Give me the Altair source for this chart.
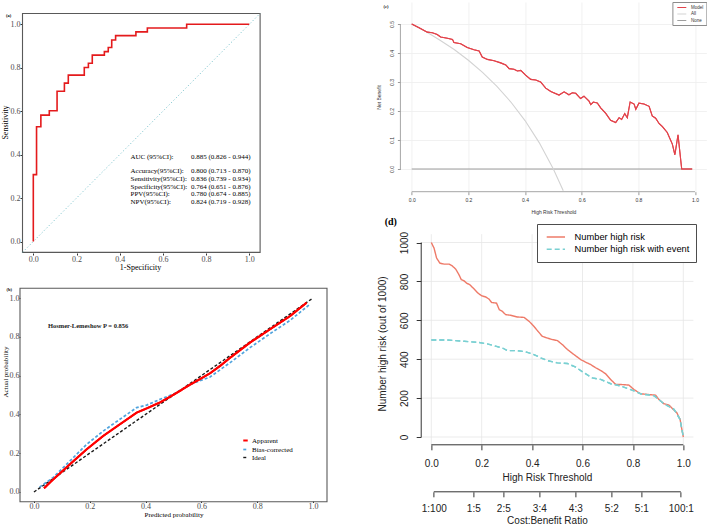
import altair as alt
import pandas as pd

SERIF = "Liberation Serif"
SANS = "Liberation Sans"

# ---------------- (a) ROC curve ----------------
roc_fpr = [0.0, 0.0, 0.015, 0.035, 0.074, 0.110, 0.144, 0.162, 0.236, 0.255, 0.273,
           0.329, 0.347, 0.363, 0.381, 0.475, 0.528, 0.710, 1.0]
roc_tpr = [0.0, 0.308, 0.528, 0.582, 0.602, 0.692, 0.729, 0.766, 0.801, 0.821, 0.858,
           0.874, 0.893, 0.928, 0.948, 0.965, 0.983, 1.0, 1.0]
diag_xy = [-0.05, 1.05]
stat_names = ["AUC (95%CI):", "Accuracy(95%CI):", "Sensitivity(95%CI):",
              "Specificity(95%CI):", "PPV(95%CI):", "NPV(95%CI):"]
stat_values = ["0.885 (0.826 - 0.944)", "0.800 (0.713 - 0.870)", "0.836 (0.739 - 0.934)",
               "0.764 (0.651 - 0.876)", "0.780 (0.674 - 0.885)", "0.824 (0.719 - 0.928)"]
ticks01 = [0.0, 0.2, 0.4, 0.6, 0.8, 1.0]

# ---------------- (b) calibration ----------------
b_series = ["Apparent", "Bias-corrected", "Ideal"]
apparent_x = [0.036, 0.069, 0.129, 0.189, 0.248, 0.308, 0.368, 0.404, 0.452, 0.487, 0.523,
              0.559, 0.595, 0.631, 0.667, 0.703, 0.774, 0.846, 0.918, 0.977]
apparent_y = [0.019, 0.065, 0.143, 0.220, 0.289, 0.349, 0.409, 0.431, 0.462, 0.490, 0.521,
              0.553, 0.582, 0.612, 0.650, 0.692, 0.770, 0.839, 0.907, 0.976]
bias_x = [0.020, 0.069, 0.129, 0.189, 0.248, 0.308, 0.368, 0.404, 0.452, 0.499, 0.559,
          0.631, 0.703, 0.774, 0.846, 0.918, 0.989]
bias_y = [0.025, 0.075, 0.160, 0.246, 0.314, 0.375, 0.435, 0.448, 0.478, 0.504, 0.554,
          0.593, 0.667, 0.744, 0.816, 0.885, 0.968]
ideal_xy = [0.0, 0.995]
hl_text = "Hosmer-Lemeshow  P  =  0.856"

# ---------------- (c) decision curve ----------------
c_series = ["Model", "All", "None"]
model_t = [0, 0.026, 0.055, 0.073, 0.09, 0.102, 0.126, 0.144, 0.149, 0.173, 0.196, 0.22,
           0.238, 0.249, 0.267, 0.291, 0.314, 0.332, 0.344, 0.361, 0.373, 0.385, 0.402,
           0.42, 0.438, 0.455, 0.473, 0.491, 0.52, 0.538, 0.555, 0.567, 0.579, 0.596,
           0.608, 0.626, 0.632, 0.641, 0.655, 0.667, 0.685, 0.702, 0.72, 0.732, 0.741,
           0.752, 0.761, 0.771, 0.785, 0.791, 0.802, 0.82, 0.838, 0.849, 0.861, 0.873,
           0.885, 0.902, 0.92, 0.929, 0.94, 0.953, 0.99]
model_nb = [0.5, 0.487, 0.472, 0.47, 0.464, 0.455, 0.451, 0.447, 0.436, 0.432, 0.419, 0.411,
            0.407, 0.386, 0.378, 0.373, 0.366, 0.359, 0.346, 0.344, 0.338, 0.340, 0.324,
            0.309, 0.307, 0.300, 0.279, 0.267, 0.255, 0.266, 0.256, 0.263, 0.261, 0.243,
            0.251, 0.234, 0.222, 0.231, 0.228, 0.211, 0.192, 0.168, 0.16, 0.177, 0.171,
            0.191, 0.177, 0.231, 0.224, 0.206, 0.227, 0.224, 0.216, 0.183, 0.175, 0.157,
            0.146, 0.126, 0.086, 0.049, 0.118, 0.0, 0.0]
all_t = [0.0, 0.05, 0.1, 0.15, 0.2, 0.25, 0.3, 0.35, 0.4, 0.45, 0.5, 0.535]
all_nb = [0.5, 0.474, 0.444, 0.412, 0.375, 0.333, 0.286, 0.231, 0.167, 0.091, 0.0, -0.075]
none_t = [0.0, 0.99]
none_nb = [0.0, 0.0]
c_yticks = [0.0, 0.1, 0.2, 0.3, 0.4, 0.5]

# ---------------- (d) clinical impact ----------------
d_series = ["Number high risk", "Number high risk with event"]
risk_t = [0, 0.011, 0.021, 0.034, 0.05, 0.07, 0.083, 0.097, 0.11, 0.119, 0.13, 0.14, 0.153,
          0.169, 0.185, 0.2, 0.216, 0.229, 0.239, 0.259, 0.27, 0.282, 0.295, 0.315, 0.341,
          0.368, 0.388, 0.407, 0.423, 0.44, 0.46, 0.48, 0.5, 0.52, 0.54, 0.566, 0.593,
          0.612, 0.632, 0.652, 0.672, 0.692, 0.712, 0.732, 0.751, 0.784, 0.804, 0.831,
          0.857, 0.89, 0.903, 0.923, 0.943, 0.96, 0.974, 0.987, 0.993, 1.0]
risk_n = [1000, 971, 920, 894, 889, 889, 880, 863, 834, 809, 803, 791, 783, 762, 740, 726,
          720, 709, 692, 688, 654, 646, 629, 626, 617, 615, 595, 569, 544, 518, 509, 501,
          496, 475, 450, 424, 398, 385, 373, 356, 342, 325, 295, 270, 270, 267, 244, 222,
          219, 215, 193, 171, 164, 142, 125, 91, 48, 0]
event_t = [0, 0.063, 0.13, 0.183, 0.222, 0.255, 0.282, 0.302, 0.341, 0.374, 0.407, 0.434,
           0.46, 0.5, 0.54, 0.573, 0.606, 0.639, 0.672, 0.712, 0.751, 0.791, 0.831, 0.884,
           0.923, 0.963, 0.987, 1.0]
event_n = [499, 499, 492, 487, 479, 467, 458, 444, 444, 438, 424, 407, 393, 381, 378, 359,
           330, 304, 296, 274, 262, 244, 222, 212, 171, 142, 91, 0]
d_yticks = [0, 200, 400, 600, 800, 1000]
cb_labels = ["1:100", "1:5", "2:5", "3:4", "4:3", "5:2", "5:1", "100:1"]
cb_cost = [1, 1, 2, 3, 4, 5, 5, 100]
cb_benefit = [100, 5, 5, 4, 3, 2, 1, 1]

# ---------------- layout constants ----------------
A_W, A_H = 240, 240
B_W, B_H = 307, 259
C_W, C_H = 306, 189.7
D_W, D_H = 293, 202.8
frame01 = (-0.05, 1.05)
stat_x_name, stat_x_val = 0.45, 0.73
stat_rows_y = [0.387, 0.326, 0.288, 0.252, 0.217, 0.182]
hl_pos = (0.05, 0.854)


def ax(title, values, font, lfs, tfs, tick, lpad, tpad, grid=False, **kw):
    return alt.Axis(title=title, values=values, grid=grid, domain=False, tickSize=tick,
                    labelFont=font, labelFontSize=lfs, labelPadding=lpad, labelFlush=False,
                    labelOverlap=False, titleFont=font, titleFontSize=tfs,
                    titleFontWeight="normal", titlePadding=tpad, **kw)


def frame_box(X, Y, fx, fy):
    df = pd.DataFrame({fx: [frame01[0]], fx + "2": [frame01[1]],
                       fy: [frame01[0]], fy + "2": [frame01[1]]})
    return alt.Chart(df).mark_rect(fillOpacity=0, stroke="#595959", strokeWidth=1.1).encode(
        x=X, x2=fx + "2:Q", y=Y, y2=fy + "2:Q")


# ================= panel A =================
scA_x = alt.Scale(domain=[-0.0616, 1.0495], nice=False, zero=False)
scA_y = alt.Scale(domain=[-0.0023, 1.1027], nice=False, zero=False)
axA_x = ax("1-Specificity", ticks01, SERIF, 8, 8, 2, 0, 0, format=".1f", offset=11,
           tickColor="#333333", labelColor="#4D4D4D", titleColor="#000000")
axA_y = ax("Sensitivity", ticks01, SERIF, 8, 8, 2, 0, 1, format=".1f", offset=-2,
           tickColor="#333333", labelColor="#4D4D4D", titleColor="#000000")
XA = alt.X("x:Q", scale=scA_x, axis=axA_x)
YA = alt.Y("y:Q", scale=scA_y, axis=axA_y)

a_diag = alt.Chart(pd.DataFrame({"x": diag_xy, "y": diag_xy})).mark_line(
    color="#74C0C8", strokeWidth=0.9, strokeDash=[1.2, 2.2]).encode(x=XA, y=YA)
a_roc = alt.Chart(pd.DataFrame({"x": roc_fpr, "y": roc_tpr, "i": list(range(len(roc_fpr)))})
                  ).mark_line(color="#E41A1C", strokeWidth=1.6, interpolate="step-after"
                              ).encode(x=XA, y=YA, order="i:Q")
a_names = alt.Chart(pd.DataFrame({"x": [stat_x_name] * len(stat_names), "y": stat_rows_y,
                                  "t": stat_names})).mark_text(
    align="left", baseline="middle", font=SERIF, fontSize=7, color="#000000"
).encode(x=XA, y=YA, text="t:N")
a_vals = alt.Chart(pd.DataFrame({"x": [stat_x_val] * len(stat_values), "y": stat_rows_y,
                                 "t": stat_values})).mark_text(
    align="left", baseline="middle", font=SERIF, fontSize=7, color="#000000"
).encode(x=XA, y=YA, text="t:N")
A = alt.layer(frame_box(XA, YA, "x", "y"), a_diag, a_roc, a_names, a_vals).properties(
    width=A_W, height=A_H,
    title=alt.TitleParams("(a)", anchor="start", frame="group", font=SERIF, fontSize=4.5,
                          fontWeight="bold", color="#000000", offset=0, dx=-14, dy=15.5))

# ================= panel B =================
scB_x = alt.Scale(domain=[-0.05, 1.05], nice=False, zero=False)
scB_y = alt.Scale(domain=[-0.0464, 1.2887], nice=False, zero=False)
axB_x = ax("Predicted probability", ticks01, SERIF, 8, 7, 1.5, 0, 0, format=".1f",
           tickColor="#333333", labelColor="#4D4D4D", titleColor="#000000")
axB_y = ax("Actual probability", ticks01, SERIF, 8, 7, 1, 0, 1, format=".1f",
           tickColor="#333333", labelColor="#4D4D4D", titleColor="#000000")
XB = alt.X("x:Q", scale=scB_x, axis=axB_x)
YB = alt.Y("y:Q", scale=scB_y, axis=axB_y)
dfB = pd.concat([
    pd.DataFrame({"x": ideal_xy, "y": ideal_xy, "s": "Ideal"}),
    pd.DataFrame({"x": bias_x, "y": bias_y, "s": "Bias-corrected"}),
    pd.DataFrame({"x": apparent_x, "y": apparent_y, "s": "Apparent"}),
])
legB = alt.Legend(title=None, orient="none", legendX=222, legendY=195, symbolType="stroke",
                  symbolSize=20, labelFont=SERIF, labelFontSize=7, labelColor="#000000",
                  rowPadding=0, labelOffset=3, padding=0)
b_lines = alt.Chart(dfB).mark_line().encode(
    x=XB, y=YB,
    color=alt.Color("s:N", scale=alt.Scale(domain=b_series,
                                           range=["#FF0000", "#4FA3DD", "#1A1A1A"]), legend=legB),
    strokeDash=alt.StrokeDash("s:N", scale=alt.Scale(domain=b_series,
                                                     range=[[1, 0], [3, 2], [3, 2]]), legend=legB),
    strokeWidth=alt.StrokeWidth("s:N", scale=alt.Scale(domain=b_series, range=[2.0, 1.4, 1.2]),
                                legend=legB),
)
b_app = alt.Chart(pd.DataFrame({"x": apparent_x, "y": apparent_y})).mark_line(
    color="#FF0000", strokeWidth=2.0).encode(x=XB, y=YB)
b_text = alt.Chart(pd.DataFrame({"x": [hl_pos[0]], "y": [hl_pos[1]], "t": [hl_text]})).mark_text(
    align="left", baseline="middle", font=SERIF, fontSize=6.5, fontWeight="bold",
    color="#222222").encode(x=XB, y=YB, text="t:N")
B = alt.layer(frame_box(XB, YB, "x", "y"), b_lines, b_app, b_text).properties(
    width=B_W, height=B_H,
    title=alt.TitleParams("(b)", anchor="start", frame="group", font=SERIF, fontSize=4.5,
                          fontWeight="bold", color="#000000", offset=0, dx=-13.5, dy=49))

# ================= panel C =================
scCx = alt.Scale(domain=[-0.0399, 1.0402], nice=False, zero=False)
scCy = alt.Scale(domain=[-0.0783, 0.5759], nice=False, zero=False)
axC_x = ax("High Risk Threshold", ticks01, SANS, 5, 5, 3, 3, 6.6, grid=True, format=".1f",
           gridColor="#EDEDED", gridWidth=0.8, tickColor="#9A9A9A", labelColor="#333333",
           titleColor="#333333")
axC_y = ax("Net Benefit", c_yticks, SANS, 5, 5, 3, 4, 8, grid=True, format=".1f",
           gridColor="#EDEDED", gridWidth=0.8, tickColor="#9A9A9A", labelColor="#333333",
           titleColor="#333333", labelAngle=270, labelAlign="center",
           labelBaseline="alphabetic")
XC = alt.X("t:Q", scale=scCx, axis=axC_x)
YC = alt.Y("nb:Q", scale=scCy, axis=axC_y)
dfC = pd.concat([
    pd.DataFrame({"t": none_t, "nb": none_nb, "s": "None"}),
    pd.DataFrame({"t": all_t, "nb": all_nb, "s": "All"}),
    pd.DataFrame({"t": model_t, "nb": model_nb, "s": "Model"}),
])
legC = alt.Legend(title=None, orient="none", legendX=272, legendY=0,
                  symbolType="M-0.24,0H3.36", symbolSize=25, symbolStrokeWidth=1,
                  labelFont=SANS, labelFontSize=4.5, labelColor="#333333", rowPadding=1.5,
                  labelOffset=10.2, padding=2.5, fillColor="#FFFFFF", strokeColor="#8C8C8C",
                  cornerRadius=0)
c_lines = alt.Chart(dfC).mark_line(strokeWidth=1.1).encode(
    x=XC, y=YC,
    color=alt.Color("s:N", scale=alt.Scale(domain=c_series,
                                           range=["#E2434B", "#D3D3D3", "#9E9E9E"]), legend=legC))
c_model = alt.Chart(pd.DataFrame({"t": model_t, "nb": model_nb})).mark_line(
    color="#E2434B", strokeWidth=1.1).encode(x=XC, y=YC)
c_xline = alt.Chart(pd.DataFrame({"t": [0.0], "t2": [1.0], "nb": [-0.0783]})).mark_rule(
    color="#A6A6A6", strokeWidth=1).encode(x=XC, x2="t2:Q", y=YC)
c_yline = alt.Chart(pd.DataFrame({"t": [-0.0399], "nb": [0.0], "nb2": [0.5]})).mark_rule(
    color="#A6A6A6", strokeWidth=1).encode(x=XC, y=YC, y2="nb2:Q")
C = alt.layer(c_lines, c_model, c_xline, c_yline).properties(
    width=C_W, height=C_H,
    title=alt.TitleParams("(c)", anchor="start", frame="group", font=SERIF, fontSize=4.5,
                          fontWeight="bold", color="#000000", offset=0, dx=-17, dy=6.5))

# ================= panel D =================
scDx = alt.Scale(domain=[-0.1226, 1.04], nice=False, zero=False)
scDy = alt.Scale(domain=[-40.1, 1002.6], nice=False, zero=False)
axD_x = ax("High Risk Threshold", ticks01, SANS, 10, 10, 5, 8.5, 4, format=".1f",
           tickColor="#333333", labelColor="#222222", titleColor="#222222", orient="bottom")
axD_y = ax("Number high risk (out of 1000)", d_yticks, SANS, 10, 10, 5, 8.6, 12.5,
           format="d", offset=-20.8, tickColor="#333333",
           labelColor="#222222", titleColor="#222222", labelAngle=270, labelAlign="center",
           labelBaseline="alphabetic")
XD = alt.X("t:Q", scale=scDx, axis=axD_x)
YD = alt.Y("n:Q", scale=scDy, axis=axD_y)
dfD = pd.concat([
    pd.DataFrame({"t": risk_t, "n": risk_n, "s": d_series[0]}),
    pd.DataFrame({"t": event_t, "n": event_n, "s": d_series[1]}),
])
legD = alt.Legend(title=None, orient="none", legendX=136.6, legendY=-18,
                  symbolType="M-0.6,0H2.73", symbolSize=121, symbolStrokeWidth=1.5,
                  labelFont=SANS, labelFontSize=9.3, labelColor="#000000", rowPadding=0.3,
                  labelOffset=18.1, padding=6.5, fillColor="#FFFFFF", strokeColor="#4D4D4D",
                  cornerRadius=0)
d_grid_v = alt.Chart(pd.DataFrame({"t": ticks01, "n": [-40.1] * 6, "n2": [1042.7] * 6})
                     ).mark_rule(color="#E6E6E6", strokeWidth=0.8).encode(x=XD, y=YD, y2="n2:Q")
d_grid_h = alt.Chart(pd.DataFrame({"t": [-0.04] * 6, "t2": [1.04] * 6, "n": d_yticks})
                     ).mark_rule(color="#E6E6E6", strokeWidth=0.8).encode(x=XD, x2="t2:Q", y=YD)
d_lines = alt.Chart(dfD).mark_line(strokeWidth=1.4).encode(
    x=XD, y=YD,
    color=alt.Color("s:N", scale=alt.Scale(domain=d_series, range=["#EE7A68", "#7AD0D2"]),
                    legend=legD),
    strokeDash=alt.StrokeDash("s:N", scale=alt.Scale(domain=d_series, range=[[1, 0], [5, 3]]),
                              legend=legD))
d_event = alt.Chart(pd.DataFrame({"t": event_t, "n": event_n})).mark_line(
    color="#7AD0D2", strokeWidth=1.4, strokeDash=[5, 3]).encode(x=XD, y=YD)
d_xline = alt.Chart(pd.DataFrame({"t": [0.0], "t2": [1.0], "n": [-40.1]})).mark_rule(
    color="#333333", strokeWidth=1).encode(x=XD, x2="t2:Q", y=YD)
d_yline = alt.Chart(pd.DataFrame({"t": [-0.04], "n": [0], "n2": [1000]})).mark_rule(
    color="#333333", strokeWidth=1).encode(x=XD, y=YD, y2="n2:Q")

cb_pos = [round(c / (c + b), 4) for c, b in zip(cb_cost, cb_benefit)]
expr = "'" + cb_labels[-1] + "'"
for i in range(len(cb_pos) - 2, -1, -1):
    mid = (cb_pos[i] + cb_pos[i + 1]) / 2
    expr = f"datum.value < {mid:.4f} ? '{cb_labels[i]}' : ({expr})"
axD_cb = ax("Cost:Benefit Ratio", cb_pos, SANS, 10, 10, 5, 6.5, 2, labelExpr=expr,
            tickColor="#333333", labelColor="#222222", titleColor="#222222",
            orient="bottom", offset=47)
XCB = alt.X("cb:Q", scale=scDx, axis=axD_cb)
d_cb_pts = alt.Chart(pd.DataFrame({"cb": cb_pos, "n": [0] * len(cb_pos)})).mark_point(
    opacity=0).encode(x=XCB, y=YD)
d_cb_line = alt.Chart(pd.DataFrame({"cb": [cb_pos[0]], "cb2": [cb_pos[-1]]})).mark_rule(
    color="#333333", strokeWidth=1).encode(x=XCB, x2="cb2:Q", y=alt.value(D_H + 47))

D = alt.layer(
    alt.layer(d_grid_v, d_grid_h, d_lines, d_event, d_xline, d_yline),
    alt.layer(d_cb_pts, d_cb_line),
).resolve_scale(x="independent").properties(
    width=D_W, height=D_H,
    title=alt.TitleParams("(d)", anchor="start", frame="group", font=SERIF, fontSize=10,
                          fontWeight="bold", color="#000000", offset=0, dx=-15.7, dy=3))

# ================= grid layout =================
chart = alt.concat(A, C, B, D, columns=2, spacing={"row": 0, "column": 73.4},
                   bounds="flush", align="each").resolve_scale(
    color="independent", strokeDash="independent", strokeWidth="independent",
    x="independent", y="independent"
).resolve_legend(
    color="independent", strokeDash="independent", strokeWidth="independent"
).configure_view(strokeWidth=0).properties(
    padding={"left": 1, "top": 1, "right": 0, "bottom": 0}, background="white")

chart.save("out.html", embed_options={"renderer": "svg", "actions": False})
